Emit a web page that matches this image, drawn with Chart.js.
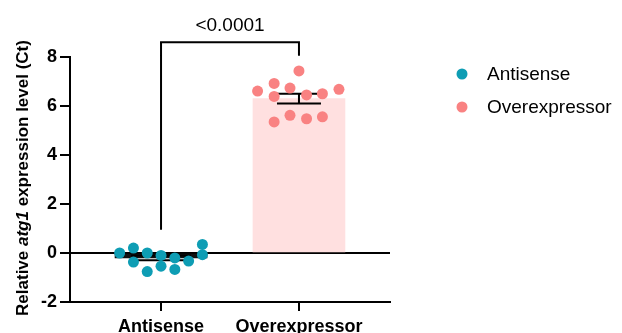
<!DOCTYPE html>
<html>
<head>
<meta charset="utf-8">
<script src="https://cdn.jsdelivr.net/npm/chart.js@4"></script>
<style>
  body { margin: 0; background: #fff; }
</style>
</head>
<body>
<canvas id="chart" width="622" height="333"></canvas>
<script>
'use strict';

// Data
const categories = ['Antisense', 'Overexpressor'];
const barMeans = [-0.2, 6.3];
const barErrors = [0.1, 0.2];

const antisenseValues = [0.0, 0.2, -0.37, 0.0, -0.76, -0.1, -0.54, -0.2, -0.67, -0.33, 0.35, -0.07];
const antisenseJitter = [-0.3, -0.2, -0.2, -0.1, -0.1, 0, 0, 0.1, 0.1, 0.2, 0.3, 0.3];

const overValues = [6.61, 6.92, 6.39, 5.35, 6.73, 5.62, 7.43, 6.45, 5.48, 6.5, 5.56, 6.68];
const overJitter = [-0.3, -0.18, -0.18, -0.18, -0.065, -0.065, 0, 0.055, 0.055, 0.17, 0.17, 0.29];

const yTicks = [-2, 0, 2, 4, 6, 8];

// significance bracket: leg ends (left, right) and top, in y units
const pLabel = '<0.0001';
const bracketLegs = [0.95, 8.05];
const bracketTop = 8.6;

const FONT = '"Liberation Sans", Arial, Helvetica, sans-serif';
const TEAL = '#0E9DB4';
const SALMON = '#F98282';
const PINK = '#FFE0E0';

function toPoints(values, jitter, pos) {
    return values.map((v, i) => ({ x: pos + jitter[i], y: v }));
}

// error bars, drawn right after the bars so the dots sit on top
const errorBars = {
    id: 'errorBars',
    afterDatasetDraw(chart, args) {
        if (args.index !== 2) return;
        const { ctx, scales: { x, y } } = chart;
        const capHalf = [30, 22];
        ctx.save();
        ctx.strokeStyle = '#000';
        ctx.lineWidth = 2;
        barMeans.forEach((m, i) => {
            const cx = x.getPixelForValue(i);
            const top = y.getPixelForValue(m + barErrors[i]);
            const bot = y.getPixelForValue(m - barErrors[i]);
            ctx.beginPath();
            ctx.moveTo(cx, top);
            ctx.lineTo(cx, bot);
            ctx.moveTo(cx - capHalf[i], top);
            ctx.lineTo(cx + capHalf[i], top);
            ctx.moveTo(cx - capHalf[i], bot);
            ctx.lineTo(cx + capHalf[i], bot);
            ctx.stroke();
        });
        ctx.restore();
    }
};

// bracket, p value, y title and legend
const extras = {
    id: 'extras',
    afterDraw(chart) {
        const { ctx, scales: { x, y } } = chart;
        ctx.save();

        // bracket
        const x0 = x.getPixelForValue(0);
        const x1 = x.getPixelForValue(1);
        const yt = y.getPixelForValue(bracketTop);
        ctx.strokeStyle = '#000';
        ctx.lineWidth = 2;
        ctx.beginPath();
        ctx.moveTo(x0, y.getPixelForValue(bracketLegs[0]));
        ctx.lineTo(x0, yt);
        ctx.lineTo(x1, yt);
        ctx.lineTo(x1, y.getPixelForValue(bracketLegs[1]));
        ctx.stroke();

        ctx.fillStyle = '#000';
        ctx.font = '19px ' + FONT;
        ctx.textAlign = 'center';
        ctx.textBaseline = 'alphabetic';
        ctx.fillText(pLabel, (x0 + x1) / 2, 31);

        // y axis title with italic gene name
        const parts = [
            { t: 'Relative ', f: 'bold 17px ' + FONT },
            { t: 'atg1', f: 'italic bold 17px ' + FONT },
            { t: ' expression level (Ct)', f: 'bold 17px ' + FONT }
        ];
        let total = 0;
        parts.forEach(p => { ctx.font = p.f; p.w = ctx.measureText(p.t).width; total += p.w; });
        ctx.translate(23, 178);
        ctx.rotate(-Math.PI / 2);
        ctx.textAlign = 'left';
        ctx.textBaseline = 'middle';
        let cx = -total / 2;
        parts.forEach(p => { ctx.font = p.f; ctx.fillText(p.t, cx, 0); cx += p.w; });
        ctx.setTransform(1, 0, 0, 1, 0, 0);

        // legend
        ctx.font = '19px ' + FONT;
        chart.data.datasets.slice(0, 2).forEach((ds, i) => {
            const ly = 74 + i * 33;
            ctx.fillStyle = ds.backgroundColor;
            ctx.beginPath();
            ctx.arc(462, ly, 5.5, 0, Math.PI * 2);
            ctx.fill();
            ctx.fillStyle = '#000';
            ctx.fillText(ds.label, 487, ly + 1);
        });
        ctx.restore();
    }
};

new Chart(document.getElementById('chart'), {
    type: 'bar',
    data: {
        datasets: [
            {
                type: 'scatter',
                label: categories[0],
                data: toPoints(antisenseValues, antisenseJitter, 0),
                backgroundColor: TEAL,
                borderWidth: 0,
                pointRadius: 5.5,
                pointHoverRadius: 5.5
            },
            {
                type: 'scatter',
                label: categories[1],
                data: toPoints(overValues, overJitter, 1),
                backgroundColor: SALMON,
                borderWidth: 0,
                pointRadius: 5.5,
                pointHoverRadius: 5.5
            },
            {
                type: 'bar',
                label: 'Mean',
                data: barMeans.map((m, i) => ({ x: i, y: m })),
                backgroundColor: ['#111', PINK],
                borderWidth: 0,
                barThickness: 92
            }
        ]
    },
    options: {
        responsive: false,
        animation: false,
        layout: { padding: { top: 57, right: 232, left: 0, bottom: 0 } },
        plugins: {
            legend: { display: false },
            tooltip: { enabled: false }
        },
        scales: {
            x: {
                type: 'linear',
                min: -0.66,
                max: 1.66,
                offset: false,
                afterBuildTicks: s => { s.ticks = categories.map((c, i) => ({ value: i })); },
                afterFit: s => { s.height = 31; },
                ticks: {
                    callback: v => categories[v],
                    color: '#000',
                    font: { family: FONT, size: 18, weight: 'bold' },
                    padding: 5,
                    maxRotation: 0,
                    autoSkip: false
                },
                grid: { offset: false, drawOnChartArea: false, color: '#000', lineWidth: 2, tickLength: 9 },
                border: { color: '#000', width: 2 }
            },
            y: {
                min: -2,
                max: 8,
                afterBuildTicks: s => { s.ticks = yTicks.map(v => ({ value: v })); },
                afterFit: s => { s.width = 70; },
                ticks: {
                    color: '#000',
                    font: { family: FONT, size: 18, weight: 'bold' },
                    padding: 3
                },
                grid: {
                    color: c => (c.tick && c.tick.value === 0 ? '#000' : 'rgba(0,0,0,0)'),
                    lineWidth: 2,
                    tickColor: '#000',
                    tickWidth: 2,
                    tickLength: 10
                },
                border: { color: '#000', width: 2 }
            }
        }
    },
    plugins: [errorBars, extras]
});
</script>
</body>
</html>
